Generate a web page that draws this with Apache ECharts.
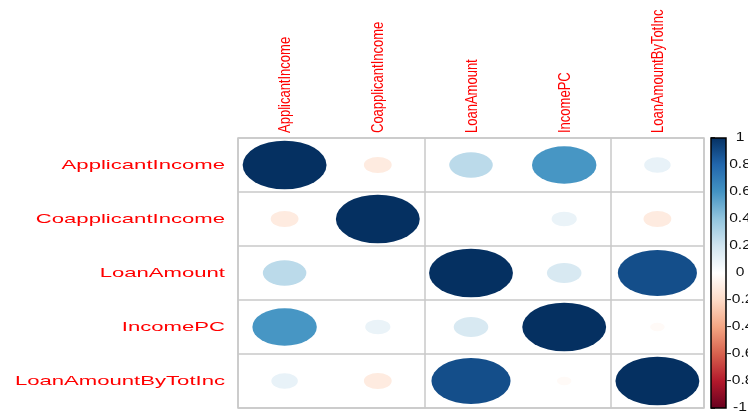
<!DOCTYPE html>
<html>
<head>
<meta charset="utf-8">
<script src="https://cdn.jsdelivr.net/npm/echarts@6/dist/echarts.min.js"></script>
<style>
  html, body { margin: 0; padding: 0; background: #fff; }
  #chart { width: 748px; height: 414px; }
</style>
</head>
<body>
<div id="chart"></div>
<script>
// Variables of the correlation matrix (rows top to bottom, columns left to right)
const variables = ['ApplicantIncome', 'CoapplicantIncome', 'LoanAmount', 'IncomePC', 'LoanAmountByTotInc'];

// Pearson correlations, one row per variable
const corApplicantIncome    = [1.00, -0.11, 0.27, 0.59, 0.10];
const corCoapplicantIncome  = [-0.11, 1.00, 0.001, 0.09, -0.11];
const corLoanAmount         = [0.27, 0.001, 1.00, 0.17, 0.89];
const corIncomePC           = [0.59, 0.09, 0.17, 1.00, -0.03];
const corLoanAmountByTotInc = [0.10, -0.11, 0.89, -0.03, 1.00];

// Colour legend tick labels
const legendTicks = ['-1', '-0.8', '-0.6', '-0.4', '-0.2', '0', '0.2', '0.4', '0.6', '0.8', '1'];

// Diverging red-white-blue palette from -1 to 1
const palette = ['#67001F', '#B2182B', '#D6604D', '#F4A582', '#FDDBC7', '#FFFFFF',
                 '#D1E5F0', '#92C5DE', '#4393C3', '#2166AC', '#053061'];

const corRows = [corApplicantIncome, corCoapplicantIncome, corLoanAmount, corIncomePC, corLoanAmountByTotInc];
const cells = [];
corRows.forEach((row, i) => {
  row.forEach((r, j) => cells.push([variables[j], variables[i], r]));
});

// Plot area of the matrix
const plot = { left: 238, top: 138, width: 466, height: 270 };
const cellW = plot.width / variables.length;
const cellH = plot.height / variables.length;

const fontFamily = '"Liberation Sans", Arial, sans-serif';
const labelFont = '13px ' + fontFamily;
const labelRed = '#ff0000';

const chart = echarts.init(document.getElementById('chart'));
chart.setOption({
  animation: false,
  backgroundColor: '#ffffff',
  grid: [
    { left: plot.left, top: plot.top, width: plot.width, height: plot.height,
      show: true, borderColor: '#c8c8c8', borderWidth: 1.5, containLabel: false },
    { left: 711, top: plot.top, width: 15, height: plot.height, containLabel: false }
  ],
  xAxis: [
    { type: 'category', data: variables, gridIndex: 0, boundaryGap: true,
      axisLine: { show: false }, axisTick: { show: false }, axisLabel: { show: false },
      splitLine: { show: true, lineStyle: { color: '#c8c8c8', width: 1.5 } } },
    { type: 'value', gridIndex: 1, min: 0, max: 1, show: false }
  ],
  yAxis: [
    { type: 'category', data: variables, gridIndex: 0, inverse: true, boundaryGap: true,
      axisLine: { show: false }, axisTick: { show: false }, axisLabel: { show: false },
      splitLine: { show: true, lineStyle: { color: '#c8c8c8', width: 1.5 } } },
    { type: 'value', gridIndex: 1, min: -1, max: 1, interval: 0.2, position: 'right',
      axisLine: { show: false },
      axisTick: { show: true, inside: false, length: 4, lineStyle: { color: '#000', width: 1.5 } },
      axisLabel: { show: false },
      splitLine: { show: false } }
  ],
  visualMap: {
    show: false, type: 'continuous', min: -1, max: 1, dimension: 2, seriesIndex: 0,
    inRange: { color: palette }
  },
  series: [
    {
      // correlation ellipses, area proportional to |r|
      type: 'scatter',
      xAxisIndex: 0, yAxisIndex: 0,
      symbol: 'circle',
      symbolSize: function (val) {
        const s = Math.sqrt(Math.abs(val[2])) * 0.9;
        return [s * cellW, s * cellH];
      },
      itemStyle: { opacity: 1 },
      silent: true,
      data: cells
    },
    {
      // row labels, left of the matrix
      type: 'custom',
      xAxisIndex: 0, yAxisIndex: 0,
      silent: true,
      data: variables.map((v, i) => [0, i]),
      renderItem: function (params, api) {
        const name = variables[params.dataIndex];
        const p = api.coord([variables[0], name]);
        return {
          type: 'text',
          x: params.coordSys.x - 13, y: p[1],
          scaleX: 1.7,
          style: { text: name, fill: labelRed, font: labelFont, align: 'right', verticalAlign: 'middle' }
        };
      }
    },
    {
      // column labels, rotated above the matrix
      type: 'custom',
      xAxisIndex: 0, yAxisIndex: 0,
      silent: true,
      data: variables.map((v, i) => [i, 0]),
      renderItem: function (params, api) {
        const name = variables[params.dataIndex];
        const p = api.coord([name, variables[0]]);
        return {
          type: 'text',
          x: p[0] + 1, y: params.coordSys.y - 5,
          rotation: Math.PI / 2,
          scaleY: 1.3,
          style: { text: name, fill: labelRed, font: labelFont, align: 'left', verticalAlign: 'middle' }
        };
      }
    },
    {
      // colour legend bar
      type: 'custom',
      xAxisIndex: 1, yAxisIndex: 1,
      silent: true,
      data: [[0, 0]],
      renderItem: function (params) {
        const cs = params.coordSys;
        return {
          type: 'rect',
          shape: { x: cs.x, y: cs.y, width: cs.width, height: cs.height },
          style: {
            fill: new echarts.graphic.LinearGradient(0, 1, 0, 0,
              palette.map((c, i) => ({ offset: i / (palette.length - 1), color: c }))),
            stroke: '#000', lineWidth: 1.5
          }
        };
      }
    },
    {
      // colour legend tick labels
      type: 'custom',
      xAxisIndex: 1, yAxisIndex: 1,
      silent: true,
      data: legendTicks.map(t => [1, Number(t)]),
      renderItem: function (params, api) {
        const p = api.coord([api.value(0), api.value(1)]);
        return {
          type: 'text',
          x: p[0] + 14, y: p[1],
          scaleX: 1.3,
          style: { text: legendTicks[params.dataIndex], fill: '#111', font: '12px ' + fontFamily,
                   align: 'center', verticalAlign: 'middle' }
        };
      }
    }
  ]
});
</script>
</body>
</html>
